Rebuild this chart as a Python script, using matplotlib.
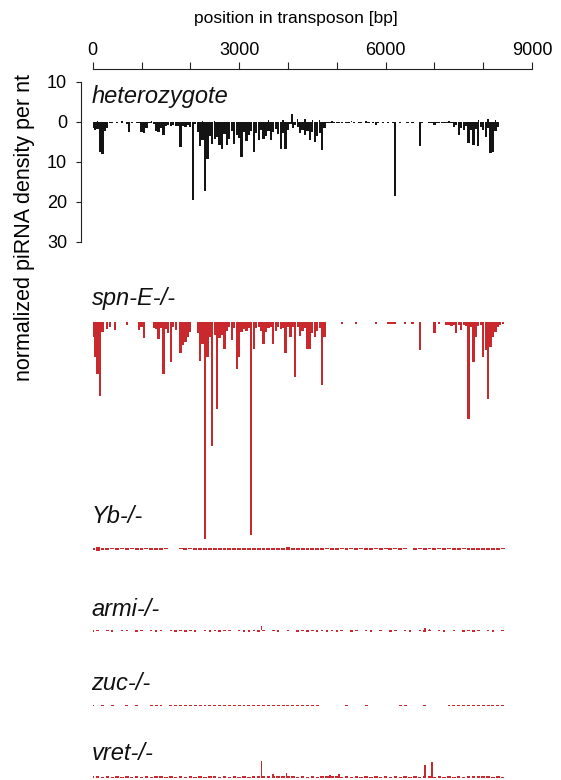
import numpy as np
import matplotlib.pyplot as plt

plt.rcParams['font.family'] = ['Liberation Sans', 'DejaVu Sans']

# piRNA density per nt, antisense (plotted downward), read every 50 bp from 0 bp
STEP = 50
het_antisense = [
    1.5, 2.0, 1.8, 7.6, 8.0, 2.2, 1.6, 0.2, 0.2, 0.1,   # 0-450
    0.2, 0.1, 0.2, 0.1, 0.5, 2.6, 0.3, 0.1, 0.2, 0.4,   # 500-950
    2.6, 2.8, 1.5, 0.2, 0.3, 0.5, 2.2, 2.6, 1.5, 3.4,   # 1000-1450
    1.0, 0.8, 1.0, 0.7, 1.1, 1.0, 6.2, 1.0, 1.2, 0.9,   # 1500-1950
    1.3, 19.5, 0.5, 2.5, 6.0, 4.5, 17.3, 9.3, 3.5, 5.5,  # 2000-2450
    4.2, 3.8, 5.8, 6.7, 3.0, 5.8, 4.2, 2.4, 5.5, 3.2,   # 2500-2950
    4.1, 8.8, 2.5, 4.8, 3.3, 2.2, 7.6, 2.8, 4.6, 2.0,   # 3000-3450
    4.2, 3.5, 2.2, 4.6, 2.5, 1.9, 3.0, 6.7, 2.8, 6.7,   # 3500-3950
    2.1, 0.5, 1.6, 0.8, 1.2, 2.9, 2.0, 3.3, 2.2, 4.6,   # 4000-4450
    2.5, 5.0, 3.6, 2.8, 7.1, 1.5, 0.3, 0.2, 0.4, 0.2,   # 4500-4950
    0.3, 0.2, 0.3, 0.0, 0.2, 0.3, 0.1, 0.2, 0.1, 0.3,   # 5000-5450
    0.2, 0.0, 0.2, 0.3, 0.1, 0.2, 0.9, 0.2, 0.1, 0.2,   # 5500-5950
    0.1, 0.3, 0.0, 0.2, 18.6, 0.1, 0.2, 0.0, 0.1, 0.2,  # 6000-6450
    0.0, 0.2, 0.1, 0.0, 6.1, 0.2, 0.0, 0.1, 0.2, 0.3,   # 6500-6950
    0.8, 0.2, 0.3, 0.2, 0.4, 0.3, 0.2, 0.4, 1.2, 0.8,   # 7000-7450
    3.3, 1.5, 2.1, 1.0, 5.4, 2.0, 5.8, 1.8, 6.1, 1.2,   # 7500-7950
    2.1, 3.7, 1.6, 7.9, 7.5, 2.3, 1.4,                  # 8000-8300
]
het_sense_pos = [100, 600, 1200, 2250, 2500, 3600, 3900, 4080, 4200, 4350,
                 4500, 4650, 4900, 5300, 5600, 7300, 7900, 8100, 8250]
het_sense = [0.3, 0.2, 0.2, 0.3, 0.3, 0.4, 0.5, 2.0, 0.6, 0.7,
             0.5, 0.4, 0.3, 0.2, 0.2, 0.3, 0.5, 0.6, 0.4]

spne_antisense = [
    3.8, 8.8, 13.0, 18.6, 2.5, 0.0, 1.7, 1.2, 0.0, 2.1,  # 0-450
    0.0, 0.0, 0.0, 0.0, 0.9, 0.0, 0.0, 0.0, 0.0, 2.1,    # 500-950
    1.4, 4.0, 0.0, 0.0, 0.0, 1.5, 1.8, 4.2, 1.5, 13.1,   # 1000-1450
    1.8, 2.9, 10.0, 1.4, 2.1, 0.0, 7.9, 5.8, 5.0, 3.7,   # 1500-1950
    2.5, 0.0, 0.0, 2.7, 9.7, 5.5, 54.3, 8.9, 3.8, 31.0,  # 2000-2450
    3.2, 21.8, 4.0, 3.2, 6.7, 2.4, 1.4, 4.5, 1.5, 11.8,  # 2500-2950
    8.9, 2.6, 1.8, 2.2, 1.6, 53.3, 6.7, 1.6, 1.2, 2.2,   # 3000-3450
    5.6, 2.6, 1.5, 1.4, 5.6, 2.2, 1.4, 1.8, 1.6, 7.7,    # 3500-3950
    1.4, 3.9, 1.3, 13.9, 1.2, 3.5, 2.2, 1.5, 6.8, 6.8,   # 4000-4450
    2.8, 3.9, 2.2, 1.5, 15.8, 3.9, 0.0, 0.0, 0.0, 0.0,   # 4500-4950
    0.0, 0.0, 0.5, 0.0, 0.0, 0.0, 0.0, 0.0, 0.5, 0.0,    # 5000-5450
    0.0, 0.0, 0.0, 0.0, 0.0, 0.0, 0.6, 0.0, 0.0, 0.0,    # 5500-5950
    0.0, 0.6, 0.5, 0.6, 0.5, 0.0, 0.0, 0.0, 0.6, 0.0,    # 6000-6450
    0.0, 0.6, 0.0, 0.0, 7.1, 0.0, 0.0, 0.0, 0.0, 0.0,    # 6500-6950
    2.9, 0.0, 0.6, 0.0, 0.0, 0.9, 0.8, 1.0, 0.7, 2.9,    # 7000-7450
    0.9, 2.1, 0.8, 1.0, 24.2, 1.2, 10.0, 3.7, 1.0, 0.8,  # 7500-7950
    8.8, 7.1, 19.2, 6.2, 3.7, 2.5, 1.2, 0.8, 0.6,        # 8000-8400
]

# weak mutants, read every 100 bp
STEP_SMALL = 100
yb_antisense = [
    0.3, 0.5, 0.4, 0.2, 0.1, 0.2, 0.1, 0.2, 0.1, 0.2,
    0.2, 0.1, 0.2, 0.2, 0.2, 0.1, 0.0, 0.0, 0.1, 0.2,
    0.1, 0.2, 0.2, 0.2, 0.2, 0.2, 0.2, 0.2, 0.2, 0.2,
    0.2, 0.2, 0.2, 0.2, 0.2, 0.2, 0.2, 0.2, 0.3, 0.4,
    0.4, 0.3, 0.2, 0.2, 0.2, 0.2, 0.2, 0.2, 0.1, 0.2,
    0.2, 0.1, 0.2, 0.1, 0.2, 0.1, 0.2, 0.2, 0.1, 0.2,
    0.1, 0.2, 0.1, 0.2, 0.1, 0.0, 0.2, 0.1, 0.2, 0.1,
    0.2, 0.1, 0.2, 0.1, 0.2, 0.2, 0.1, 0.2, 0.3, 0.4,
    0.4, 0.3, 0.2, 0.2, 0.1,
]
yb_sense = [
    0.2, 0.4, 0.2, 0.1, 0.1, 0.1, 0.1, 0.1, 0.1, 0.1,
    0.1, 0.1, 0.1, 0.1, 0.1, 0.1, 0.0, 0.0, 0.1, 0.1,
    0.1, 0.1, 0.2, 0.1, 0.2, 0.1, 0.1, 0.2, 0.1, 0.1,
    0.1, 0.2, 0.1, 0.1, 0.1, 0.2, 0.1, 0.2, 0.2, 0.3,
    0.4, 0.2, 0.2, 0.1, 0.1, 0.1, 0.1, 0.1, 0.1, 0.1,
    0.1, 0.1, 0.1, 0.1, 0.1, 0.1, 0.1, 0.1, 0.1, 0.1,
    0.1, 0.1, 0.1, 0.1, 0.1, 0.0, 0.1, 0.1, 0.1, 0.1,
    0.1, 0.1, 0.1, 0.1, 0.1, 0.1, 0.1, 0.1, 0.2, 0.3,
    0.3, 0.2, 0.2, 0.1, 0.1,
]
armi_antisense = [
    0.3, 0.2, 0.0, 0.2, 0.3, 0.0, 0.2, 0.2, 0.0, 0.3,
    0.2, 0.0, 0.2, 0.3, 0.2, 0.0, 0.2, 0.3, 0.2, 0.3,
    0.2, 0.3, 0.0, 0.2, 0.3, 0.2, 0.3, 0.2, 0.2, 0.0,
    0.2, 0.3, 0.3, 0.2, 0.4, 0.2, 0.0, 0.2, 0.3, 0.0,
    0.2, 0.0, 0.3, 0.2, 0.3, 0.2, 0.3, 0.2, 0.3, 0.2,
    0.3, 0.2, 0.0, 0.3, 0.2, 0.0, 0.2, 0.3, 0.0, 0.2,
    0.0, 0.3, 0.2, 0.0, 0.2, 0.3, 0.0, 0.2, 0.3, 0.2,
    0.0, 0.2, 0.3, 0.0, 0.2, 0.0, 0.3, 0.2, 0.3, 0.2,
    0.0, 0.2, 0.3, 0.0, 0.2,
]
armi_sense_pos = [2300, 3460, 4100, 6810, 6900]
armi_sense = [0.2, 1.2, 0.2, 0.5, 0.3]
zuc_antisense = [
    0.2, 0.0, 0.2, 0.0, 0.2, 0.0, 0.0, 0.2, 0.0, 0.2,
    0.0, 0.0, 0.2, 0.2, 0.2, 0.0, 0.2, 0.2, 0.2, 0.2,
    0.2, 0.2, 0.3, 0.2, 0.2, 0.3, 0.2, 0.3, 0.3, 0.2,
    0.3, 0.2, 0.3, 0.2, 0.3, 0.3, 0.2, 0.3, 0.2, 0.2,
    0.2, 0.2, 0.2, 0.2, 0.2, 0.2, 0.2, 0.0, 0.0, 0.0,
    0.0, 0.0, 0.2, 0.0, 0.0, 0.0, 0.2, 0.0, 0.0, 0.0,
    0.0, 0.0, 0.0, 0.2, 0.2, 0.0, 0.0, 0.0, 0.2, 0.0,
    0.0, 0.0, 0.0, 0.2, 0.2, 0.2, 0.2, 0.2, 0.2, 0.2,
    0.2, 0.2, 0.2, 0.2, 0.2,
]
vret_sense = [
    0.4, 0.5, 0.3, 0.4, 0.3, 0.4, 0.3, 0.4, 0.3, 0.4,
    0.3, 0.4, 0.3, 0.4, 0.4, 0.3, 0.4, 0.3, 0.4, 0.3,
    0.4, 0.3, 0.4, 0.3, 0.4, 0.4, 0.3, 0.4, 0.3, 0.4,
    0.3, 0.4, 0.3, 0.4, 0.4, 0.5, 0.4, 0.5, 0.4, 0.5,
    0.4, 0.4, 0.3, 0.4, 0.3, 0.4, 0.3, 0.4, 0.4, 0.5,
    0.4, 0.3, 0.4, 0.3, 0.4, 0.3, 0.4, 0.3, 0.4, 0.3,
    0.4, 0.3, 0.4, 0.3, 0.4, 0.3, 0.4, 0.3, 0.5, 0.4,
    0.3, 0.4, 0.3, 0.4, 0.3, 0.4, 0.3, 0.4, 0.4, 0.5,
    0.4, 0.4, 0.3, 0.4, 0.3,
]
vret_peak_pos = [3460, 3690, 3975, 4860, 5050, 6810, 6950]
vret_peak = [4.2, 1.1, 1.2, 0.8, 1.0, 3.3, 4.0]

names = ['heterozygote', 'spn-E-/-', 'Yb-/-', 'armi-/-', 'zuc-/-', 'vret-/-']
baselines = [0, 50, 106.8, 127.2, 145.9, 164.1]
label_y = [-4.75, 45.8, 100.3, 123.6, 142.1, 159.6]

BLACK = '#141414'
RED = '#c9282d'

fig = plt.figure(figsize=(5.61, 7.80), dpi=100)
ax = fig.add_axes([92.7 / 561, 0, (532 - 92.7) / 561, 1 - 69 / 780])
ax.set_xlim(0, 9000)
ax.set_ylim(164.6, -13.2)


def draw(values, step, base, color, width, up=False):
    pos = np.arange(len(values)) * step
    vals = np.asarray(values, dtype=float)
    if up:
        vals = -vals
    ax.bar(pos, vals, bottom=base, width=width, color=color, linewidth=0, align='center')


def draw_at(pos, values, base, color, width, up=False):
    vals = np.asarray(values, dtype=float)
    if up:
        vals = -vals
    ax.bar(pos, vals, bottom=base, width=width, color=color, linewidth=0)


draw(het_antisense, STEP, baselines[0], BLACK, 46)
draw_at(het_sense_pos, het_sense, baselines[0], BLACK, 30, up=True)
draw(spne_antisense, STEP, baselines[1], RED, 46)
draw(yb_antisense, STEP_SMALL, baselines[2], RED, 80)
draw(yb_sense, STEP_SMALL, baselines[2], RED, 80, up=True)
draw(armi_antisense, STEP_SMALL, baselines[3], RED, 50)
draw_at(armi_sense_pos, armi_sense, baselines[3], RED, 30, up=True)
draw(zuc_antisense, STEP_SMALL, baselines[4], RED, 60)
draw(vret_sense, STEP_SMALL, baselines[5], RED, 70, up=True)
draw_at(vret_peak_pos, vret_peak, baselines[5], RED, 30, up=True)

for name, y in zip(names, label_y):
    ax.text(-25, y, name, fontsize=17, style='italic', ha='left', va='baseline', color='#111111')

# axes styling
for s in ['right', 'bottom']:
    ax.spines[s].set_visible(False)
ax.spines['left'].set_position(('outward', 8.4))
ax.spines['left'].set_bounds(-10, 30)
ax.spines['top'].set_bounds(0, 9000)
for s in ['left', 'top']:
    ax.spines[s].set_linewidth(0.8)
    ax.spines[s].set_color('#222222')

ax.xaxis.tick_top()
ax.set_xticks(range(0, 9001, 1000))
ax.set_xticklabels(['0', '', '', '3000', '', '', '6000', '', '', '9000'])
ax.set_yticks([-10, 0, 10, 20, 30])
ax.set_yticklabels(['10', '0', '10', '20', '30'])
ax.tick_params(axis='x', length=4.8, width=0.8, pad=2.5, labelsize=13, color='#222222')
ax.tick_params(axis='y', length=3.6, width=0.8, pad=6.5, labelsize=13, color='#222222')
ax.patch.set_visible(False)

fig.text(295.5 / 561, 1 - 19 / 780, 'position in transposon [bp]', fontsize=12.5,
         ha='center', va='center')
fig.text(25 / 561, 1 - 227 / 780, 'normalized piRNA density per nt', fontsize=15.5,
         rotation=90, ha='center', va='center')

fig.savefig('out.png', dpi=100)
